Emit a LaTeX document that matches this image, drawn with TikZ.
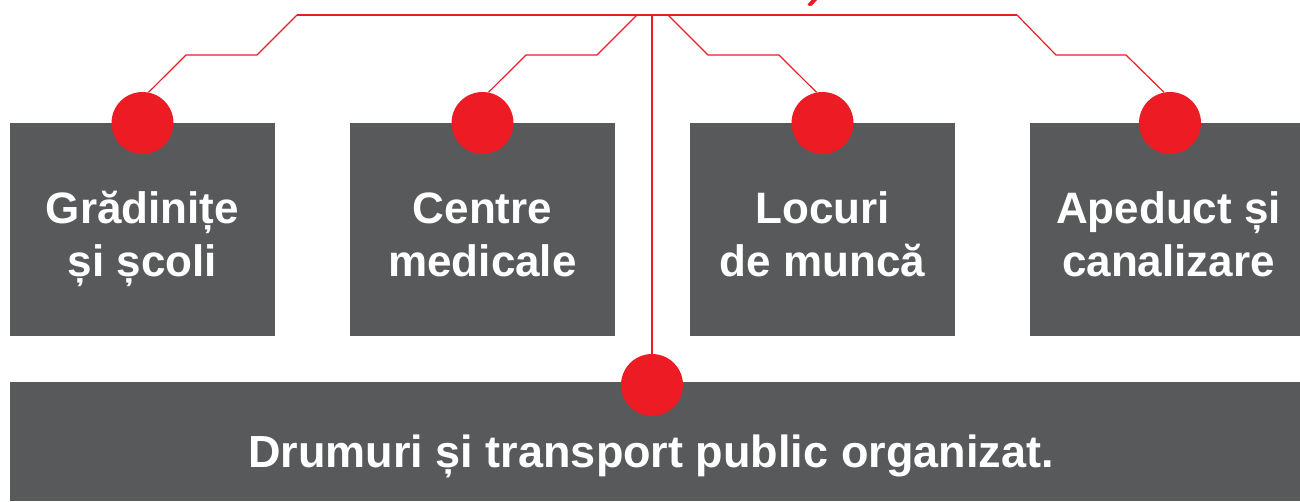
\documentclass[tikz,border=0pt]{standalone}
\usepackage{fontspec}
\setmainfont{Liberation Sans}
\definecolor{boxgray}{HTML}{58595B}
\definecolor{dotred}{HTML}{ED1C24}
\begin{document}
\begin{tikzpicture}[x=1pt,y=-1pt,
  card/.style={fill=boxgray, draw=none, inner sep=0pt, anchor=north west},
  dot/.style={circle, fill=dotred, draw=none, minimum size=62pt, inner sep=0pt},
  wire/.style={draw=dotred, line width=1.2pt, line join=miter},
  cardtext/.style={text=white, font=\bfseries\fontsize{44}{53}\selectfont, align=center, anchor=base, inner sep=0pt},
  bigtext/.style={text=white, font=\bfseries\fontsize{45}{54}\selectfont, anchor=base, inner sep=0pt}
]
\useasboundingbox (0,0) rectangle (1300,501);
% boxes
\node[card, minimum width=265pt, minimum height=213pt] (b1) at (10,123) {};
\node[card, minimum width=265pt, minimum height=213pt] (b2) at (350,123) {};
\node[card, minimum width=265pt, minimum height=213pt] (b3) at (690,123) {};
\node[card, minimum width=270pt, minimum height=213pt] (b4) at (1030,123) {};
\node[card, minimum width=1290pt, minimum height=119pt] (b5) at (10,382) {};
% dots
\node[dot] (c1) at (142.5,123) {};
\node[dot] (c2) at (482.5,123) {};
\node[dot] (c3) at (822.5,123) {};
\node[dot] (c4) at (1170,123) {};
\node[dot] (c5) at (652,385) {};
% wire points
\coordinate (hubL) at (297,15);
\coordinate (hubR) at (1017,15);
\coordinate (hub) at (652,15);
\coordinate (a1) at (257,55); \coordinate (a2) at (186,55);
\coordinate (s2) at (637,15); \coordinate (d1) at (597,55); \coordinate (d2) at (526,55);
\coordinate (s3) at (668,15); \coordinate (e1) at (708,55); \coordinate (e2) at (779,55);
\coordinate (f1) at (1056,55); \coordinate (f2) at (1126,55);
\draw[wire] (hubL) -- (hubR);
\draw[wire] (hubL) -- (a1) -- (a2) -- (c1.79);
\draw[wire] (s2) -- (d1) -- (d2) -- (c2.79);
\draw[wire] (s3) -- (e1) -- (e2) -- (c3.101);
\draw[wire] (hubR) -- (f1) -- (f2) -- (c4.101);
\draw[wire] (hub) -- (c5.north);
% red fragment at the top edge
\fill[dotred] (809,6) -- (807.5,4.5) -- (811.5,0) -- (817,0) -- (812,5.5) -- cycle;
% texts (anchor base = baseline of the last line)
\node[cardtext] (t1) at (142.5,276) {Grădinițe\\și școli};
\node[cardtext] (t2) at (482.5,276) {Centre\\medicale};
\node[cardtext] (t3) at (822.5,276) {Locuri\\de muncă};
\node[cardtext] (t4) at (1168.5,276) {Apeduct și\\canalizare};
\node[bigtext] (t5) at (651,467) {Drumuri și transport public organizat.};
\end{tikzpicture}
\end{document}
